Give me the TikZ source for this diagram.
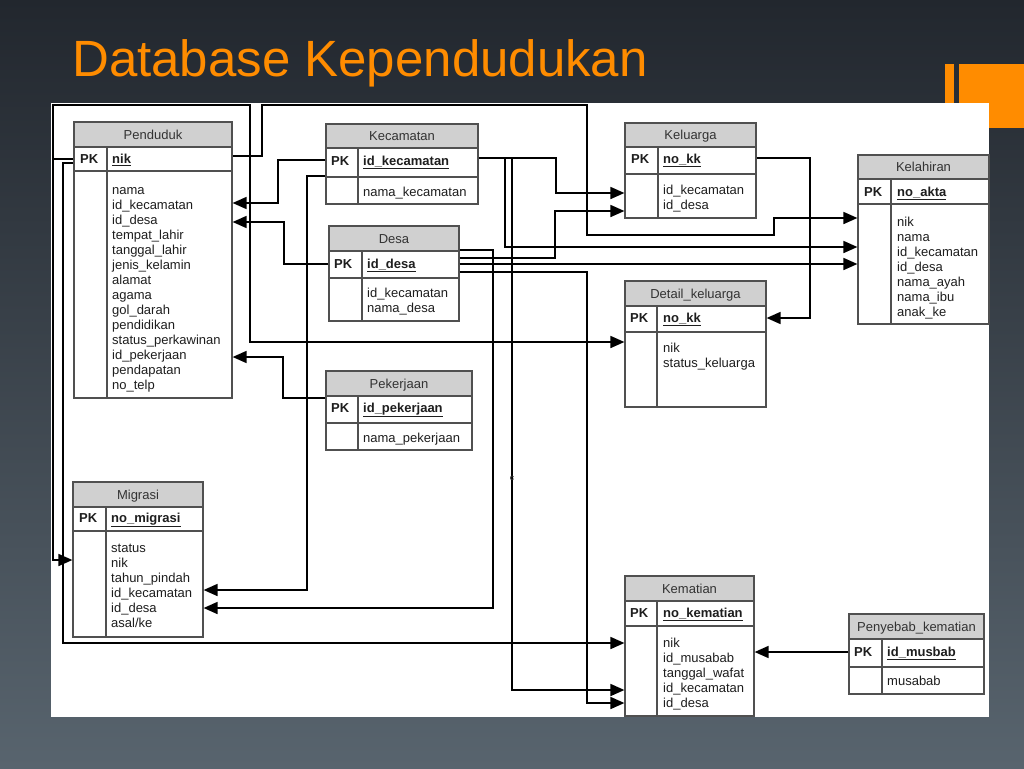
\documentclass[tikz,border=0pt]{standalone}
\usepackage{fontspec}
\setmainfont{Liberation Sans}
\usetikzlibrary{fit,arrows.meta,calc}
\definecolor{orng}{RGB}{255,140,0}
\definecolor{hdrfill}{RGB}{208,208,208}
\definecolor{tline}{RGB}{80,80,80}
\definecolor{bgtop}{RGB}{34,39,46}
\definecolor{bgmid}{RGB}{44,50,58}
\definecolor{bgbot}{RGB}{88,100,110}
\definecolor{txt}{RGB}{30,30,30}
\tikzset{
  tbox/.style={draw=tline, line width=1.2pt, inner sep=0pt, fill=none},
  tl/.style={draw=tline, line width=1.2pt},
  ttitle/.style={anchor=base, inner sep=0pt, text=black!80, font=\fontsize{13}{15}\selectfont},
  pk/.style={anchor=base west, inner sep=0pt, text=txt, font=\fontsize{13}{15}\selectfont\bfseries},
  attr/.style={anchor=base west, inner sep=0pt, text=txt, font=\fontsize{13}{15}\selectfont},
  conn/.style={draw=black, line width=1.7pt},
  arr/.style={conn, -{Triangle[length=14pt,width=12pt]}},
}
% #1 name, #2 x1, #3 y1, #4 x2, #5 y2, #6 header bottom, #7 pk bottom, #8 divider x, #9 title
\newcommand\ertable[9]{%
  \fill[hdrfill] (#2,#3) rectangle (#4,#6);
  \draw[tl] (#2,#6) -- (#4,#6) (#2,#7) -- (#4,#7) (#8,#6) -- (#8,#5);
  \node[tbox, fit={(#2,#3) (#4,#5)}] (#1) {};
  \node[ttitle] (#1-t) at ({(#2+#4)/2},{(#3+#6)/2+4.5}) {#9};
}
% #1 name, #2 pk x, #3 key x, #4 center y, #5 key
\newcommand\pkrow[5]{%
  \node[pk] (#1-pk) at (#2,{#4+4.5}) {PK};
  \node[pk] (#1-key) at (#3,{#4+4.5}) {\underline{#5}};
}
% #1 x, #2 first center y, #3 list
\newcommand\attrs[3]{%
  \foreach \t [count=\i from 0] in {#3} \node[attr] at (#1,{#2+4.5+15*\i}) {\t};
}
\begin{document}
\begin{tikzpicture}[x=1pt,y=-1pt]
\useasboundingbox (0,0) rectangle (1024,768);
\shade[top color=bgtop, middle color=bgmid, bottom color=bgbot] (0,0) rectangle (1024,768);
% title
\node[anchor=base west, inner sep=0pt, text=orng, font=\fontsize{51}{51}\selectfont] (title) at (72,76) {Database Kependudukan};
% orange accents
\fill[orng] (945,64) rectangle (954,110);
\fill[orng] (959,64) rectangle (1024,128);
% white panel
\fill[white] (51,103) rectangle (989,717);

% tables
\ertable{pend}{74}{122}{232}{398}{147}{171}{107}{Penduduk}
\pkrow{pend}{80}{112}{159}{nik}
\attrs{112}{190}{nama,id\_kecamatan,id\_desa,tempat\_lahir,tanggal\_lahir,jenis\_kelamin,alamat,agama,gol\_darah,pendidikan,status\_perkawinan,id\_pekerjaan,pendapatan,no\_telp}

\ertable{kec}{326}{124}{478}{204}{148}{177}{358}{Kecamatan}
\pkrow{kec}{331}{363}{161}{id\_kecamatan}
\attrs{363}{192}{nama\_kecamatan}

\ertable{desa}{329}{226}{459}{321}{251}{278}{362}{Desa}
\pkrow{desa}{334}{367}{264}{id\_desa}
\attrs{367}{293}{id\_kecamatan,nama\_desa}

\ertable{pek}{326}{371}{472}{450}{396}{423}{358}{Pekerjaan}
\pkrow{pek}{331}{363}{408}{id\_pekerjaan}
\attrs{363}{438}{nama\_pekerjaan}

\ertable{kel}{625}{123}{756}{218}{147}{174}{658}{Keluarga}
\pkrow{kel}{631}{663}{159}{no\_kk}
\attrs{663}{190}{id\_kecamatan,id\_desa}

\ertable{kelah}{858}{155}{989}{324}{179}{204}{891}{Kelahiran}
\pkrow{kelah}{864}{897}{192}{no\_akta}
\attrs{897}{222}{nik,nama,id\_kecamatan,id\_desa,nama\_ayah,nama\_ibu,anak\_ke}

\ertable{detk}{625}{281}{766}{407}{306}{332}{657}{Detail\_keluarga}
\pkrow{detk}{630}{663}{318}{no\_kk}
\attrs{663}{348}{nik,status\_keluarga}

\ertable{migr}{73}{482}{203}{637}{507}{531}{106}{Migrasi}
\pkrow{migr}{79}{111}{518}{no\_migrasi}
\attrs{111}{548}{status,nik,tahun\_pindah,id\_kecamatan,id\_desa,asal/ke}

\ertable{kemat}{625}{576}{754}{716}{601}{626}{657}{Kematian}
\pkrow{kemat}{630}{663}{613}{no\_kematian}
\attrs{663}{643}{nik,id\_musabab,tanggal\_wafat,id\_kecamatan,id\_desa}

\ertable{peny}{849}{614}{984}{694}{639}{667}{882}{Penyebab\_kematian}
\pkrow{peny}{854}{887}{652}{id\_musbab}
\attrs{887}{681}{musabab}

% connectors: Penduduk.nik
\draw[arr] (pend.east |- 0,156) -- (262,156) -- (262,105) -- (587,105) -- (587,235) -- (774,235) -- (774,218) -- (kelah.west |- 0,218);
\draw[arr] (pend.west |- 0,159) -- (53,159) -- (53,105) -- (250,105) -- (250,342) -- (detk.west |- 0,342);
\draw[arr] (53,159) -- (53,560) -- (migr.west |- 0,560);
\draw[arr] (pend.west |- 0,163) -- (63,163) -- (63,643) -- (kemat.west |- 0,643);
% Kecamatan.id_kecamatan
\draw[arr] (kec.west |- 0,160) -- (278,160) -- (278,203) -- (pend.east |- 0,203);
\draw[arr] (kec.west |- 0,176) -- (307,176) -- (307,590) -- (migr.east |- 0,590);
\draw[arr] (kec.east |- 0,158) -- (556,158) -- (556,193) -- (kel.west |- 0,193);
\draw[arr] (505,158) -- (505,247) -- (kelah.west |- 0,247);
\draw[arr] (512,158) -- (512,690) -- (kemat.west |- 0,690);
% Desa.id_desa
\draw[arr] (desa.west |- 0,264) -- (284,264) -- (284,222) -- (pend.east |- 0,222);
\draw[arr] (desa.east |- 0,250) -- (493,250) -- (493,608) -- (migr.east |- 0,608);
\draw[arr] (desa.east |- 0,258) -- (555,258) -- (555,211) -- (kel.west |- 0,211);
\draw[arr] (desa.east |- 0,264) -- (kelah.west |- 0,264);
\draw[arr] (desa.east |- 0,272) -- (587,272) -- (587,703) -- (kemat.west |- 0,703);
% Pekerjaan
\draw[arr] (pek.west |- 0,398) -- (283,398) -- (283,357) -- (pend.east |- 0,357);
% Keluarga -> Detail_keluarga
\draw[arr] (kel.east |- 0,158) -- (810,158) -- (810,318) -- (detk.east |- 0,318);
% Penyebab -> Kematian
\draw[arr] (peny.west |- 0,652) -- (kemat.east |- 0,652);
% stray mark
\node[inner sep=0pt, text=black!80, font=\fontsize{8}{8}\selectfont\bfseries] (stray) at (512,478) {c};
\end{tikzpicture}
\end{document}
